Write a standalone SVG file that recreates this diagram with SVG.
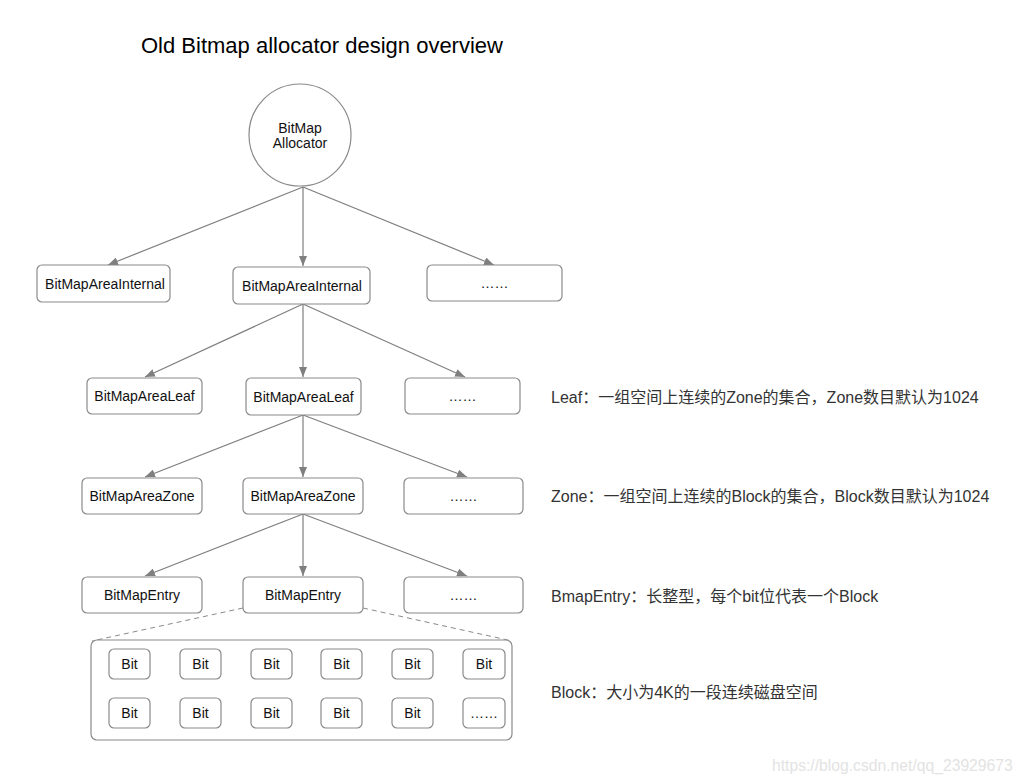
<svg xmlns="http://www.w3.org/2000/svg" width="1024" height="784" viewBox="0 0 1024 784">
<defs>
<marker id="ah" viewBox="0 0 10 8" refX="10" refY="4" markerWidth="10" markerHeight="8" markerUnits="userSpaceOnUse" orient="auto">
<path d="M0,0 L10,4 L0,8 Z" fill="#7f7f7f"/>
</marker>
</defs>
<style>
.bx{fill:#fff;stroke:#8a8a8a;stroke-width:1.2}
.t{font-family:"Liberation Sans",Arial,"Noto Sans CJK SC",sans-serif;font-size:14px;fill:#111;text-anchor:middle}
.s{font-family:"Liberation Sans",Arial,"Noto Sans CJK SC",sans-serif;font-size:16px;fill:#333}
.ar{stroke:#7f7f7f;stroke-width:1.2;fill:none;marker-end:url(#ah)}
.ds{stroke:#8a8a8a;stroke-width:1;fill:none;stroke-dasharray:5,4}
</style>
<rect width="1024" height="784" fill="#fff"/>
<text x="141" y="53" font-family="'Liberation Sans',Arial,sans-serif" font-size="22" fill="#000">Old Bitmap allocator design overview</text>

<g id="connectors">
<line class="ar" x1="303" y1="187" x2="108" y2="265"/>
<line class="ar" x1="303" y1="187" x2="303" y2="266"/>
<line class="ar" x1="303" y1="187" x2="494" y2="265"/>
<line class="ar" x1="303" y1="304" x2="145" y2="377"/>
<line class="ar" x1="303" y1="304" x2="303" y2="377"/>
<line class="ar" x1="303" y1="304" x2="465" y2="377"/>
<line class="ar" x1="303" y1="415" x2="145" y2="477"/>
<line class="ar" x1="303" y1="415" x2="303" y2="477"/>
<line class="ar" x1="303" y1="415" x2="467" y2="477"/>
<line class="ar" x1="303" y1="514" x2="145" y2="576"/>
<line class="ar" x1="303" y1="514" x2="303" y2="576"/>
<line class="ar" x1="303" y1="514" x2="467" y2="576"/>
<line class="ds" x1="243" y1="608" x2="92" y2="641"/>
<line class="ds" x1="363" y1="608" x2="512" y2="641"/>
</g>

<g id="allocator"><circle cx="300" cy="135" r="51" class="bx"/><text class="t" x="300" y="133">BitMap</text><text class="t" x="300" y="148">Allocator</text></g>

<g id="internal1"><rect class="bx" x="37" y="265" width="133" height="37" rx="5"/><text class="t" x="105" y="288.5">BitMapAreaInternal</text></g>
<g id="internal2"><rect class="bx" x="233" y="267" width="137" height="37" rx="5"/><text class="t" x="302" y="290.5">BitMapAreaInternal</text></g>
<g id="internal3"><rect class="bx" x="427" y="265" width="135" height="36" rx="5"/><text class="t" x="494.5" y="288">……</text></g>

<g id="leaf1"><rect class="bx" x="87" y="378" width="115" height="36" rx="5"/><text class="t" x="144.5" y="401">BitMapAreaLeaf</text></g>
<g id="leaf2"><rect class="bx" x="246" y="378" width="115" height="37" rx="5"/><text class="t" x="303.5" y="401.5">BitMapAreaLeaf</text></g>
<g id="leaf3"><rect class="bx" x="405" y="378" width="115" height="36" rx="5"/><text class="t" x="462.5" y="401">……</text></g>

<g id="zone1"><rect class="bx" x="82" y="478" width="120" height="36" rx="5"/><text class="t" x="142" y="501">BitMapAreaZone</text></g>
<g id="zone2"><rect class="bx" x="243" y="478" width="120" height="36" rx="5"/><text class="t" x="303" y="501">BitMapAreaZone</text></g>
<g id="zone3"><rect class="bx" x="404" y="478" width="119" height="36" rx="5"/><text class="t" x="463.5" y="501">……</text></g>

<g id="entry1"><rect class="bx" x="82" y="577" width="120" height="36" rx="5"/><text class="t" x="142" y="600">BitMapEntry</text></g>
<g id="entry2"><rect class="bx" x="243" y="577" width="120" height="36" rx="5"/><text class="t" x="303" y="600">BitMapEntry</text></g>
<g id="entry3"><rect class="bx" x="404" y="577" width="119" height="36" rx="5"/><text class="t" x="463.5" y="600">……</text></g>

<g id="bits">
<rect class="bx" x="91" y="640" width="421" height="100" rx="6"/>
<rect class="bx" x="109" y="649" width="41" height="30" rx="5"/><text class="t" x="129.5" y="669">Bit</text>
<rect class="bx" x="180" y="649" width="41" height="30" rx="5"/><text class="t" x="200.5" y="669">Bit</text>
<rect class="bx" x="251" y="649" width="41" height="30" rx="5"/><text class="t" x="271.5" y="669">Bit</text>
<rect class="bx" x="321" y="649" width="41" height="30" rx="5"/><text class="t" x="341.5" y="669">Bit</text>
<rect class="bx" x="392" y="649" width="41" height="30" rx="5"/><text class="t" x="412.5" y="669">Bit</text>
<rect class="bx" x="463" y="649" width="42" height="30" rx="5"/><text class="t" x="484" y="669">Bit</text>
<rect class="bx" x="109" y="698" width="41" height="30" rx="5"/><text class="t" x="129.5" y="718">Bit</text>
<rect class="bx" x="180" y="698" width="41" height="30" rx="5"/><text class="t" x="200.5" y="718">Bit</text>
<rect class="bx" x="251" y="698" width="41" height="30" rx="5"/><text class="t" x="271.5" y="718">Bit</text>
<rect class="bx" x="321" y="698" width="41" height="30" rx="5"/><text class="t" x="341.5" y="718">Bit</text>
<rect class="bx" x="392" y="698" width="41" height="30" rx="5"/><text class="t" x="412.5" y="718">Bit</text>
<rect class="bx" x="463" y="698" width="42" height="30" rx="5"/><text class="t" x="484" y="718">……</text>
</g>

<g id="notes">
<text class="s" x="551" y="403">Leaf：一组空间上连续的Zone的集合，Zone数目默认为1024</text>
<text class="s" x="551" y="502">Zone：一组空间上连续的Block的集合，Block数目默认为1024</text>
<text class="s" x="551" y="602">BmapEntry：长整型，每个bit位代表一个Block</text>
<text class="s" x="551" y="698">Block：大小为4K的一段连续磁盘空间</text>
</g>
<text x="772" y="771" font-family="'Liberation Sans',Arial,sans-serif" font-size="15.7" fill="#e3e3e3">https://blog.csdn.net/qq_23929673</text>
</svg>
